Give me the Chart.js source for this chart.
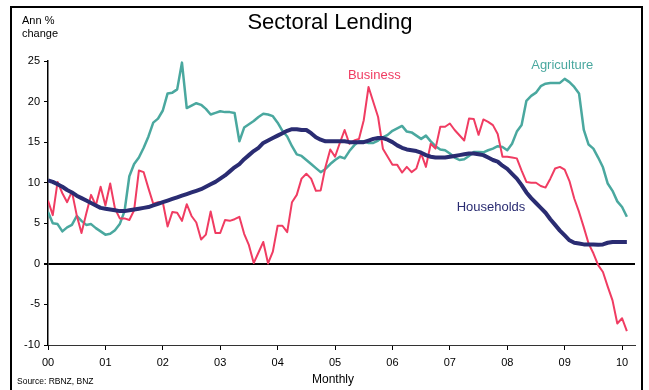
<!DOCTYPE html>
<html>
<head>
<meta charset="utf-8">
<script src="https://cdn.jsdelivr.net/npm/chart.js@4.4.1/dist/chart.umd.min.js"></script>
<style>
    body { margin: 0; background: #fff; }
    #wrap { position: relative; width: 649px; height: 390px; overflow: hidden; font-family: "Liberation Sans", Arial, sans-serif; }
    #frame { position: absolute; left: 10px; top: 6px; width: 633px; height: 400px; border: 2px solid #000; box-sizing: border-box; pointer-events: none; }
    .txt { position: absolute; color: #000; white-space: nowrap; }
    #title { left: 0; width: 660px; top: 9px; text-align: center; font-size: 22px; }
    #units { left: 22px; top: 14px; font-size: 11px; line-height: 13px; }
    #xtitle { left: 0; width: 666px; top: 372px; text-align: center; font-size: 12px; }
    #source { left: 17px; top: 376px; font-size: 8.5px; }
</style>
</head>
<body>
<div id="wrap">
    <canvas id="chart" width="649" height="390"></canvas>
    <div id="frame"></div>
    <div class="txt" id="title">Sectoral Lending</div>
    <div class="txt" id="units">Ann %<br>change</div>
    <div class="txt" id="xtitle">Monthly</div>
    <div class="txt" id="source">Source: RBNZ, BNZ</div>
</div>
<script>
// Monthly values, Jan 2000 to Feb 2010 (one row per year)
const households = [
    10.3, 10.1, 9.8, 9.5, 9.1, 8.8, 8.4, 8.1, 7.8, 7.5, 7.2, 6.9,
    6.8, 6.7, 6.6, 6.5, 6.5, 6.6, 6.7, 6.8, 6.9, 7.0, 7.2, 7.4,
    7.6, 7.8, 8.0, 8.2, 8.4, 8.6, 8.8, 9.0, 9.2, 9.5, 9.8, 10.1,
    10.5, 10.9, 11.4, 11.9, 12.3, 12.9, 13.4, 13.9, 14.3, 14.9, 15.2, 15.5,
    15.8, 16.1, 16.4, 16.6, 16.6, 16.5, 16.5, 16.1, 15.6, 15.3, 15.1, 15.1,
    15.1, 15.1, 15.1, 15.0, 15.0, 15.0, 15.0, 15.2, 15.4, 15.5, 15.5, 15.3,
    15.0, 14.6, 14.3, 14.1, 14.0, 13.9, 13.7, 13.4, 13.2, 13.1, 13.1, 13.1,
    13.2, 13.3, 13.4, 13.5, 13.6, 13.6, 13.5, 13.4, 13.1, 12.8, 12.6, 12.1,
    11.7, 11.1, 10.5, 9.7, 8.8, 8.1, 7.5, 6.9, 6.3, 5.5, 4.8, 4.1,
    3.5, 2.9, 2.6, 2.5, 2.4, 2.4, 2.4, 2.35, 2.4, 2.6, 2.7, 2.7,
    2.7, 2.7
];
const agriculture = [
    6.4, 5.0, 4.9, 4.0, 4.5, 4.8, 5.9, 5.3, 4.8, 4.9, 4.4, 4.0,
    3.6, 3.7, 4.15, 4.9, 6.5, 10.8, 12.3, 13.1, 14.3, 15.7, 17.4, 17.9,
    18.9, 21.0, 21.1, 21.5, 24.8, 19.2, 19.5, 19.8, 19.6, 19.1, 18.4, 18.6,
    18.8, 18.7, 18.7, 18.6, 15.1, 16.8, 17.2, 17.6, 18.1, 18.5, 18.4, 18.2,
    17.4, 16.4, 15.7, 14.5, 13.5, 13.3, 12.8, 12.3, 11.8, 11.3, 11.7, 12.3,
    12.8, 13.2, 13.0, 13.9, 14.6, 15.1, 15.1, 14.9, 14.9, 15.2, 15.6, 15.9,
    16.4, 16.7, 17.0, 16.3, 16.2, 15.8, 15.4, 15.8, 15.1, 14.5, 14.1, 14.0,
    13.6, 13.1, 12.8, 12.9, 13.3, 13.8, 13.8, 13.75, 14.0, 14.2, 14.5, 14.4,
    14.0, 14.8, 16.3, 17.1, 20.1, 20.7, 21.1, 21.9, 22.2, 22.3, 22.3, 22.3,
    22.8, 22.4, 21.8, 21.0, 16.5, 14.7, 14.2, 13.1, 11.9, 9.9, 9.0, 7.7,
    7.0, 5.8
];
const business = [
    7.8, 6.0, 10.1, 8.7, 7.6, 8.9, 6.0, 3.8, 6.2, 8.5, 7.2, 9.5,
    7.2, 9.9, 6.8, 5.6, 5.6, 5.4, 6.6, 11.5, 11.3, 9.3, 7.4, 7.6,
    7.6, 4.6, 6.4, 6.3, 5.3, 7.35, 5.9, 5.1, 3.0, 3.6, 6.45, 3.8,
    3.8, 5.4, 5.3, 5.5, 5.8, 3.7, 2.3, 0.1, 1.4, 2.7, 0.05, 1.5,
    4.7, 4.7, 3.9, 7.6, 8.5, 10.5, 11.1, 10.5, 9.0, 9.05, 11.95, 14.1,
    13.2, 14.9, 16.5, 14.8, 15.2, 15.4, 17.7, 21.8, 19.95, 18.1, 14.2, 13.2,
    12.2, 12.2, 11.25, 11.95, 11.3, 11.75, 13.6, 11.95, 14.8, 14.2, 16.9, 16.9,
    17.3, 16.5, 15.85, 15.2, 17.9, 17.85, 15.9, 17.8, 17.5, 17.1, 16.0, 13.2,
    13.2, 13.1, 13.0, 11.5, 10.1, 10.0, 10.0, 9.6, 9.4, 10.5, 11.75, 11.95,
    11.6, 10.2, 8.05, 6.4, 4.5, 2.5, 1.3, -0.15, -1.0, -2.8, -4.5, -7.35,
    -6.7, -8.3
];

const yearLabels = ['00', '01', '02', '03', '04', '05', '06', '07', '08', '09', '10'];
const yTicks = [-10, -5, 0, 5, 10, 15, 20, 25];

// series name labels, placed in data units (month, value)
const seriesLabels = [
    { text: 'Business', month: 68.2, value: 23.2, color: '#f03c62' },
    { text: 'Agriculture', month: 107.5, value: 24.5, color: '#4aa89f' },
    { text: 'Households', month: 92.6, value: 7.0, color: '#2a2c72' }
];

function toPoints(values) {
    return values.map((v, i) => ({ x: i, y: v }));
}

const labelPlugin = {
    id: 'seriesLabels',
    afterDatasetsDraw(chart) {
        const ctx = chart.ctx;
        const xs = chart.scales.x, ys = chart.scales.y;
        ctx.save();
        ctx.font = '13px "Liberation Sans", Arial, sans-serif';
        ctx.textAlign = 'center';
        ctx.textBaseline = 'middle';
        seriesLabels.forEach(l => {
            ctx.fillStyle = l.color;
            ctx.fillText(l.text, xs.getPixelForValue(l.month), ys.getPixelForValue(l.value));
        });
        ctx.restore();
    }
};

const ctx = document.getElementById('chart').getContext('2d');
new Chart(ctx, {
    type: 'line',
    data: {
        datasets: [
            { label: 'Households', data: toPoints(households), borderColor: '#2a2c72', borderWidth: 4, order: 0 },
            { label: 'Business', data: toPoints(business), borderColor: '#f03c62', borderWidth: 2, order: 1 },
            { label: 'Agriculture', data: toPoints(agriculture), borderColor: '#4aa89f', borderWidth: 2.5, order: 2 }
        ]
    },
    options: {
        responsive: false,
        animation: false,
        events: [],
        elements: { point: { radius: 0 }, line: { tension: 0, borderJoinStyle: 'round' } },
        layout: { padding: { left: 0, right: 14, top: 61, bottom: 0 } },
        plugins: { legend: { display: false }, tooltip: { enabled: false } },
        scales: {
            x: {
                type: 'linear',
                min: 0,
                max: 122.7,
                afterFit: s => { s.height = 45; },
                border: { display: true, color: '#333', width: 1 },
                grid: { drawOnChartArea: false, drawTicks: true, tickLength: 5, color: '#000' },
                ticks: {
                    stepSize: 12,
                    includeBounds: false,
                    autoSkip: false,
                    maxRotation: 0,
                    padding: 6,
                    color: '#000',
                    font: { family: '"Liberation Sans", Arial, sans-serif', size: 11 },
                    callback: v => yearLabels[v / 12]
                }
            },
            y: {
                min: -10,
                max: 25,
                afterFit: s => { s.width = 48; },
                afterBuildTicks: s => { s.ticks = yTicks.map(v => ({ value: v })); },
                border: { display: true, color: '#000', width: 1.5 },
                grid: {
                    drawOnChartArea: true,
                    tickLength: 4,
                    tickColor: '#000',
                    color: c => (c.tick && c.tick.value === 0 ? '#000' : 'rgba(0,0,0,0)'),
                    lineWidth: c => (c.tick && c.tick.value === 0 ? 2 : 1)
                },
                ticks: {
                    padding: 4,
                    color: '#000',
                    font: { family: '"Liberation Sans", Arial, sans-serif', size: 11 }
                }
            }
        }
    },
    plugins: [labelPlugin]
});
</script>
</body>
</html>
